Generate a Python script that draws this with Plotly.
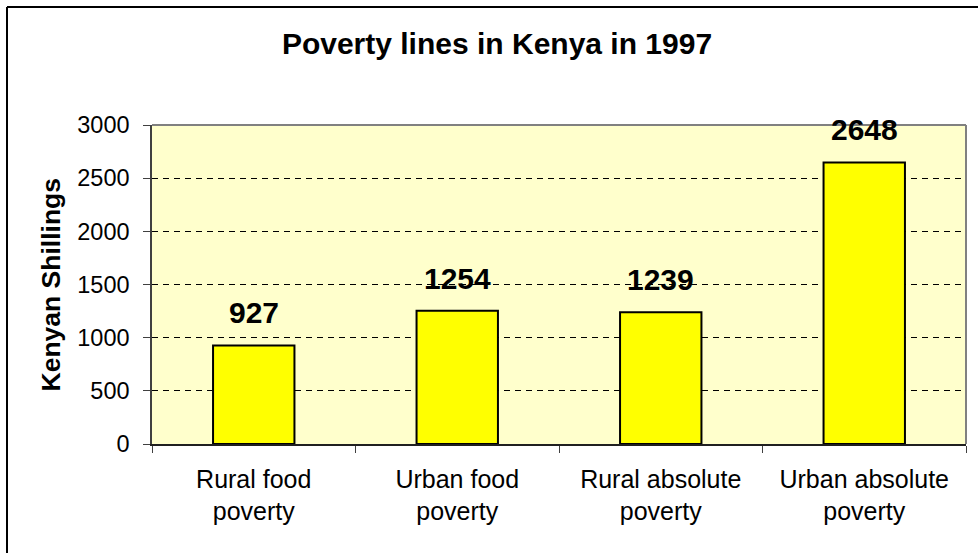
import plotly.graph_objects as go

categories = ["Rural food<br>poverty", "Urban food<br>poverty", "Rural absolute<br>poverty", "Urban absolute<br>poverty"]
values = [927, 1254, 1239, 2648]
y_ticks = [0, 500, 1000, 1500, 2000, 2500, 3000]

FONT = "Liberation Sans, Arial, sans-serif"
W, H = 978, 553
L, R, T, B = 152, 12, 125, 109
PW, PH = W - L - R, H - T - B

def px_x(x):
    return (x - L) / PW

def px_y(y):
    return 1 - (y - T) / PH

fig = go.Figure()
fig.add_trace(go.Bar(
    x=categories, y=values, width=0.4,
    marker=dict(color="#FFFF00", line=dict(color="black", width=2)),
    hoverinfo="skip",
))

for c, v in zip(categories, values):
    fig.add_annotation(x=c, y=v, text=f"<b>{v}</b>", showarrow=False,
                       yanchor="bottom", yshift=14,
                       font=dict(family=FONT, size=30, color="black"))

fig.add_annotation(xref="paper", yref="paper", x=px_x(50), y=0.5,
                   text="<b>Kenyan Shillings</b>", textangle=-90, showarrow=False,
                   xanchor="center", yanchor="middle",
                   font=dict(family=FONT, size=26.5, color="black"))

fig.update_layout(
    width=W, height=H,
    margin=dict(l=L, r=R, t=T, b=B),
    paper_bgcolor="white", plot_bgcolor="#FFFFCC",
    showlegend=False,
    title=dict(text="<b>Poverty lines in Kenya in 1997</b>", x=497 / W, xanchor="center",
               xref="container",
               y=1 - 43 / H, yanchor="middle",
               font=dict(family=FONT, size=30, color="black")),
    font=dict(family=FONT, color="black"),
    xaxis=dict(tickson="boundaries", ticks="outside", ticklen=7, tickcolor="#404040",
               showline=True, linecolor="#202020", linewidth=1.5,
               ticklabelstandoff=12,
               tickfont=dict(family=FONT, size=25, color="black"), showgrid=False),
    yaxis=dict(range=[0, 3000], tickvals=y_ticks, ticks="outside", ticklen=7, tickcolor="#404040",
               showline=True, linecolor="#404040", linewidth=1.5,
               ticklabelstandoff=9,
               showgrid=True, gridcolor="black", gridwidth=1, griddash="6px,5px", zeroline=False,
               tickfont=dict(family=FONT, size=23.5, color="black")),
    shapes=[
        dict(type="line", xref="paper", yref="paper", x0=0, x1=1, y0=1, y1=1,
             line=dict(color="#808080", width=2), layer="above"),
        dict(type="line", xref="paper", yref="paper", x0=1, x1=1, y0=0, y1=1,
             line=dict(color="#808080", width=2), layer="above"),
        dict(type="line", xref="paper", yref="paper", x0=px_x(7), x1=px_x(W + 5), y0=px_y(7), y1=px_y(7),
             line=dict(color="black", width=2)),
        dict(type="line", xref="paper", yref="paper", x0=px_x(7), x1=px_x(7), y0=px_y(7), y1=px_y(H + 5),
             line=dict(color="black", width=2)),
    ],
)

fig.write_html("out.html", config={"displayModeBar": False},
               post_script="document.body.style.margin='0';document.body.style.padding='0';")
